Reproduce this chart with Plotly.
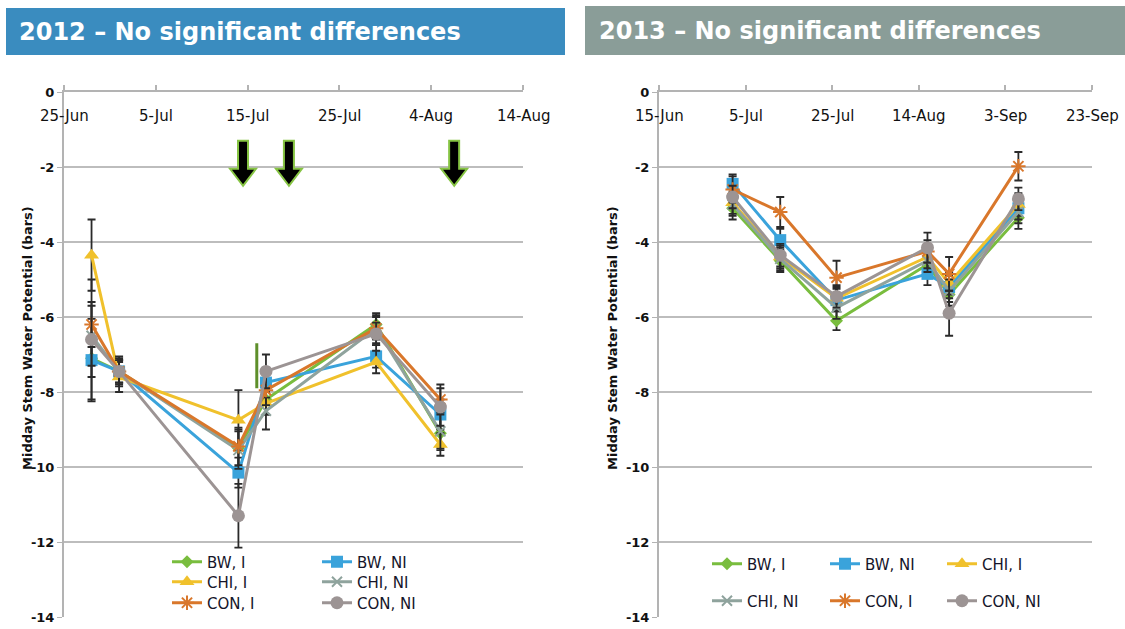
import plotly.graph_objects as go

W, H = 1125, 629

# ---------------- data ----------------
series_names = ["BW, I", "BW, NI", "CHI, I", "CHI, NI", "CON, I", "CON, NI"]

dates_2012 = ["2012-06-28", "2012-07-01", "2012-07-14", "2012-07-17", "2012-07-29", "2012-08-05"]
vals_2012 = {
    "BW, I":   [-7.10, -7.45, -9.50, -8.20, -6.20, -9.10],
    "BW, NI":  [-7.15, -7.45, -10.15, -7.75, -7.05, -8.60],
    "CHI, I":  [-4.35, -7.60, -8.75, -8.30, -7.20, -9.40],
    "CHI, NI": [-6.50, -7.45, -9.55, -8.50, -6.30, -9.05],
    "CON, I":  [-6.20, -7.45, -9.45, -7.95, -6.30, -8.20],
    "CON, NI": [-6.60, -7.45, -11.30, -7.45, -6.45, -8.40],
}
err_2012 = {
    "BW, I":   [0.50, 0.30, 0.50, 0.40, 0.25, 0.40],
    "BW, NI":  [1.10, 0.30, 0.40, 0.40, 0.30, 0.40],
    "CHI, I":  [0.95, 0.40, 0.80, 0.30, 0.30, 0.30],
    "CHI, NI": [0.80, 0.30, 0.50, 0.50, 0.30, 0.50],
    "CON, I":  [0.60, 0.40, 0.50, 0.40, 0.40, 0.40],
    "CON, NI": [1.60, 0.35, 0.85, 0.45, 0.30, 0.50],
}

dates_2013 = ["2013-07-02", "2013-07-13", "2013-07-26", "2013-08-16", "2013-08-21", "2013-09-06"]
vals_2013 = {
    "BW, I":   [-3.10, -4.50, -6.10, -4.60, -5.40, -3.35],
    "BW, NI":  [-2.45, -3.95, -5.55, -4.85, -5.20, -3.10],
    "CHI, I":  [-2.95, -4.40, -5.50, -4.40, -5.10, -3.00],
    "CHI, NI": [-3.00, -4.45, -5.75, -4.50, -5.30, -3.20],
    "CON, I":  [-2.60, -3.20, -4.95, -4.25, -4.85, -1.98],
    "CON, NI": [-2.80, -4.35, -5.45, -4.15, -5.90, -2.85],
}
err_2013 = {
    "BW, I":   [0.30, 0.30, 0.25, 0.30, 0.30, 0.30],
    "BW, NI":  [0.25, 0.30, 0.30, 0.30, 0.30, 0.30],
    "CHI, I":  [0.30, 0.30, 0.30, 0.30, 0.30, 0.30],
    "CHI, NI": [0.30, 0.30, 0.30, 0.30, 0.30, 0.30],
    "CON, I":  [0.35, 0.40, 0.45, 0.30, 0.45, 0.38],
    "CON, NI": [0.30, 0.30, 0.30, 0.40, 0.60, 0.30],
}

ticks_2012 = ["2012-06-25", "2012-07-05", "2012-07-15", "2012-07-25", "2012-08-04", "2012-08-14"]
ticklabels_2012 = ["25-Jun", "5-Jul", "15-Jul", "25-Jul", "4-Aug", "14-Aug"]
ticks_2013 = ["2013-06-15", "2013-07-05", "2013-07-25", "2013-08-14", "2013-09-03", "2013-09-23"]
ticklabels_2013 = ["15-Jun", "5-Jul", "25-Jul", "14-Aug", "3-Sep", "23-Sep"]
y_ticks = [0, -2, -4, -6, -8, -10, -12, -14]

irrigation_dates_2012 = ["2012-07-14 12:00", "2012-07-19 12:00", "2012-08-06 12:00"]
arrow_tip_value = -2.5
stray_mark = {"date": "2012-07-16", "top": -6.7, "bottom": -7.9}

titles = ["2012 \u2013 No significant differences", "2013 \u2013 No significant differences"]
y_title = "Midday Stem Water Potential (bars)"

# ---------------- styles ----------------
styles = {
    "BW, I":   dict(color="#79BD3E", symbol="diamond", size=10, lw=0),
    "BW, NI":  dict(color="#3AA3DB", symbol="square", size=12, lw=0),
    "CHI, I":  dict(color="#F0C12C", symbol="triangle-up", size=13, lw=0),
    "CHI, NI": dict(color="#8FA39D", symbol="x-thin", size=10, lw=2),
    "CON, I":  dict(color="#D9772B", symbol="asterisk", size=12, lw=2),
    "CON, NI": dict(color="#9C9494", symbol="circle", size=13, lw=0),
}

FONT = "DejaVu Sans"
TXT = "#15152a"

def px_x(p):
    return p / W

def px_y(p):
    return 1 - p / H

fig = go.Figure()

# legend placement (pixel x of legend box left, pixel y of row centre)
legend_pos_2012 = {
    "BW, I": (167, 562), "CHI, I": (167, 582), "CON, I": (167, 603),
    "BW, NI": (317, 562), "CHI, NI": (317, 582), "CON, NI": (317, 603),
}
legend_pos_2013 = {
    "BW, I": (707, 564), "BW, NI": (825, 564), "CHI, I": (942, 564),
    "CHI, NI": (707, 601), "CON, I": (825, 601), "CON, NI": (942, 601),
}

legend_layouts = {}
lid = 0

def add_series(dates, vals, errs, xa, ya, legpos):
    global lid
    for name in series_names:
        st = styles[name]
        lid += 1
        key = "legend" if lid == 1 else f"legend{lid}"
        marker = dict(symbol=st["symbol"], size=st["size"], color=st["color"])
        if st["lw"]:
            marker["line"] = dict(color=st["color"], width=st["lw"])
        fig.add_trace(go.Scatter(
            x=dates, y=vals[name], name=name, mode="lines+markers",
            xaxis=xa, yaxis=ya, legend=key,
            line=dict(color=st["color"], width=3),
            marker=marker,
            error_y=dict(type="data", array=errs[name], visible=True,
                         color="#2a2a2a", thickness=1.8, width=4),
        ))
        lx, ly = legpos[name]
        legend_layouts[key] = dict(
            x=px_x(lx), y=px_y(ly), xanchor="left", yanchor="middle",
            bgcolor="rgba(0,0,0,0)", borderwidth=0,
            font=dict(family=FONT, size=15, color=TXT),
            itemwidth=30, tracegroupgap=0,
        )

add_series(dates_2012, vals_2012, err_2012, "x", "y", legend_pos_2012)
add_series(dates_2013, vals_2013, err_2013, "x2", "y2", legend_pos_2013)

ydom = [px_y(617), px_y(92)]
axis_common_x = dict(
    side="top", showline=True, linecolor="#B3B3B3", linewidth=2,
    ticks="outside", ticklen=5, tickcolor="#B3B3B3", tickwidth=1.5,
    showticklabels=False, automargin=False,
    showgrid=False, zeroline=False, type="date",
)
axis_common_y = dict(
    range=[-14, 0], tickvals=y_ticks, ticktext=[str(v) for v in y_ticks],
    showline=True, linecolor="#B3B3B3", linewidth=2,
    ticks="outside", ticklen=5, tickcolor="#B3B3B3", automargin=False,
    showgrid=True, gridcolor="#BDBDBD", gridwidth=2, zeroline=False,
    tickfont=dict(family=FONT, size=13, color="#111111", weight=700),
    domain=ydom,
)

fig.update_layout(
    width=W, height=H, margin=dict(l=0, r=0, t=0, b=0, pad=0, autoexpand=False),
    paper_bgcolor="white", plot_bgcolor="white",
    showlegend=True,
    xaxis=dict(axis_common_x, domain=[px_x(64), px_x(523)],
               range=[ticks_2012[0], ticks_2012[-1]],
               tickvals=ticks_2012, anchor="y"),
    yaxis=dict(axis_common_y, anchor="x"),
    xaxis2=dict(axis_common_x, domain=[px_x(659), px_x(1092)],
                range=[ticks_2013[0], ticks_2013[-1]],
                tickvals=ticks_2013, anchor="y2"),
    yaxis2=dict(axis_common_y, anchor="x2"),
    **legend_layouts,
)

shapes = [
    dict(type="rect", xref="paper", yref="paper", x0=px_x(6), x1=px_x(565),
         y0=px_y(55), y1=px_y(8), fillcolor="#3A8CBF", line=dict(width=0), layer="below"),
    dict(type="rect", xref="paper", yref="paper", x0=px_x(585), x1=1.0,
         y0=px_y(55), y1=px_y(6), fillcolor="#8A9D98", line=dict(width=0), layer="below"),
]
arrow_path = "M 0,0 L -13,17 L -5,17 L -5,45 L 5,45 L 5,17 L 13,17 Z"
for d in irrigation_dates_2012:
    shapes.append(dict(type="path", xref="x", yref="y", xsizemode="pixel", ysizemode="pixel",
                       xanchor=d, yanchor=arrow_tip_value, path=arrow_path,
                       fillcolor="black", line=dict(color="#86C443", width=2)))
shapes.append(dict(type="line", xref="x", yref="y", x0=stray_mark["date"], x1=stray_mark["date"],
                   y0=stray_mark["bottom"], y1=stray_mark["top"],
                   line=dict(color="#5E8F2A", width=3)))
fig.update_layout(shapes=shapes)

annotations = [
    dict(text=f"<b>{titles[0]}</b>", xref="paper", yref="paper", x=px_x(17), y=px_y(32),
         xanchor="left", yanchor="middle", showarrow=False,
         font=dict(family=FONT, size=24, color="white")),
    dict(text=f"<b>{titles[1]}</b>", xref="paper", yref="paper", x=px_x(597), y=px_y(31),
         xanchor="left", yanchor="middle", showarrow=False,
         font=dict(family=FONT, size=24, color="white")),
    dict(text=f"<b>{y_title}</b>", xref="paper", yref="paper", x=px_x(27), y=px_y(338),
         xanchor="center", yanchor="middle", textangle=-90, showarrow=False,
         font=dict(family=FONT, size=13, color="#111111")),
    dict(text=f"<b>{y_title}</b>", xref="paper", yref="paper", x=px_x(612), y=px_y(338),
         xanchor="center", yanchor="middle", textangle=-90, showarrow=False,
         font=dict(family=FONT, size=13, color="#111111")),
]
for xa, tv, tt in (("x", ticks_2012, ticklabels_2012), ("x2", ticks_2013, ticklabels_2013)):
    for v, t in zip(tv, tt):
        annotations.append(dict(text=t, xref=xa, yref="paper", x=v, y=px_y(116),
                                xanchor="center", yanchor="middle", showarrow=False,
                                font=dict(family=FONT, size=15, color="#111111")))
fig.update_layout(annotations=annotations)

fig.write_html("out.html", config={"displayModeBar": False},
               post_script="document.body.style.margin='0';")
